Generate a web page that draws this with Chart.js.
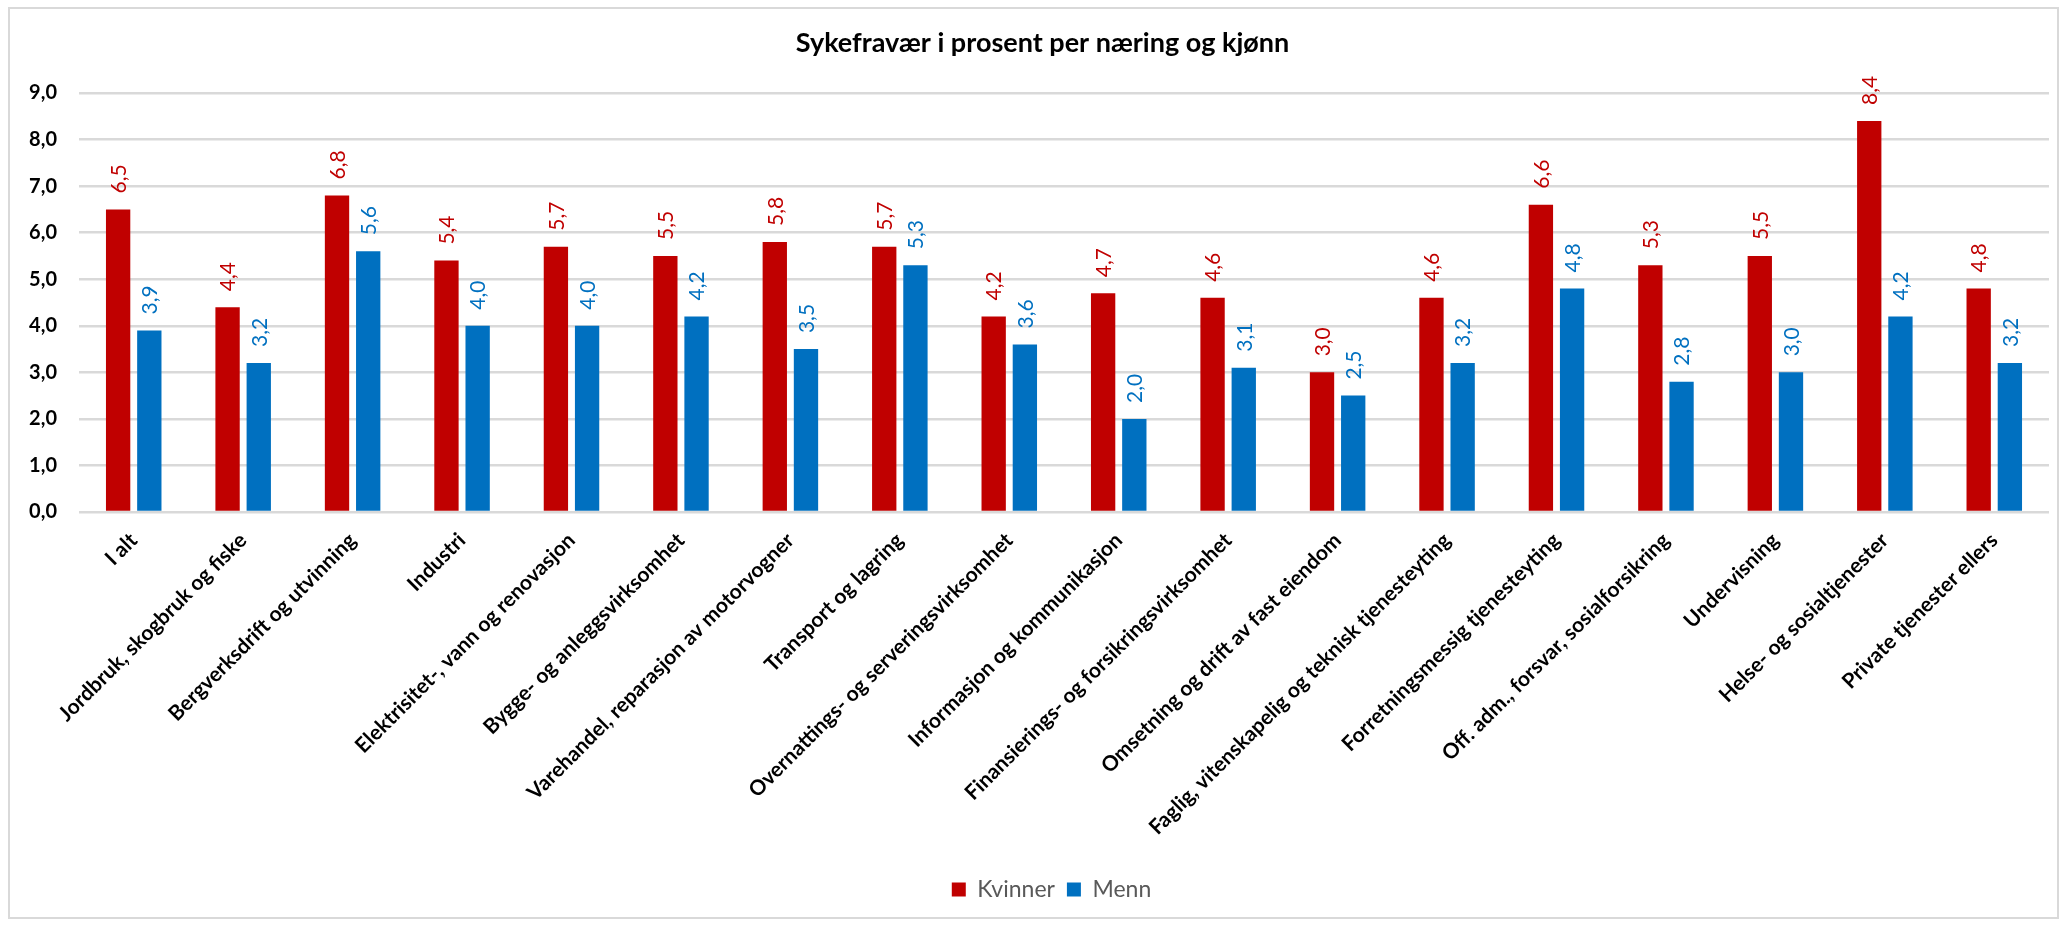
<!DOCTYPE html>
<html>
<head>
<meta charset="utf-8">
<script src="https://cdn.jsdelivr.net/npm/chart.js@4"></script>
<style>
  html, body { margin: 0; padding: 0; background: #fff; }
  #wrap { position: relative; width: 2069px; height: 925px; }
  #frame { position: absolute; left: 8px; top: 7px; width: 2051px; height: 912px; border: 2px solid #d9d9d9; box-sizing: border-box; pointer-events: none; }
  canvas { position: absolute; left: 0; top: 0; }
</style>
</head>
<body>
<div id="wrap">
  <canvas id="c" width="2069" height="925"></canvas>
  <div id="frame"></div>
</div>
<script>
const categories = [
  "I alt",
  "Jordbruk, skogbruk og fiske",
  "Bergverksdrift og utvinning",
  "Industri",
  "Elektrisitet-, vann og renovasjon",
  "Bygge- og anleggsvirksomhet",
  "Varehandel, reparasjon av motorvogner",
  "Transport og lagring",
  "Overnattings- og serveringsvirksomhet",
  "Informasjon og kommunikasjon",
  "Finansierings- og forsikringsvirksomhet",
  "Omsetning og drift av fast eiendom",
  "Faglig, vitenskapelig og teknisk tjenesteyting",
  "Forretningsmessig tjenesteyting",
  "Off. adm., forsvar, sosialforsikring",
  "Undervisning",
  "Helse- og sosialtjenester",
  "Private tjenester ellers"
];
const kvinner = [6.5, 4.4, 6.8, 5.4, 5.7, 5.5, 5.8, 5.7, 4.2, 4.7, 4.6, 3.0, 4.6, 6.6, 5.3, 5.5, 8.4, 4.8];
const menn    = [3.9, 3.2, 5.6, 4.0, 4.0, 4.2, 3.5, 5.3, 3.6, 2.0, 3.1, 2.5, 3.2, 4.8, 2.8, 3.0, 4.2, 3.2];
const seriesNames = ["Kvinner", "Menn"];
const titleText = "Sykefravær i prosent per næring og kjønn";

const RED = "#c00000";
const BLUE = "#0070c0";
const FONT = "Lato, 'Open Sans', sans-serif";

const fmt = v => v.toFixed(1).replace('.', ',');

const valueLabels = {
  id: 'valueLabels',
  afterDatasetsDraw(chart) {
    const ctx = chart.ctx;
    chart.data.datasets.forEach((ds, di) => {
      const meta = chart.getDatasetMeta(di);
      meta.data.forEach((el, i) => {
        const v = ds.data[i];
        ctx.save();
        ctx.translate(el.x, el.y - 16);
        ctx.rotate(-Math.PI / 2);
        ctx.font = "21px " + FONT;
        ctx.fillStyle = ds.backgroundColor;
        ctx.textAlign = 'left';
        ctx.textBaseline = 'middle';
        ctx.fillText(fmt(v), 0, 1);
        ctx.restore();
      });
    });
  }
};

// nudge the title and legend blocks slightly right, as in the original layout
const blockShift = {
  id: 'blockShift',
  afterLayout(chart) {
    if (chart.legend) { chart.legend.left += 27; chart.legend.right += 27; }
    if (chart.titleBlock) { chart.titleBlock.left += 18; chart.titleBlock.right += 18; }
  }
};

new Chart(document.getElementById('c'), {
  type: 'bar',
  data: {
    labels: categories,
    datasets: [
      { label: seriesNames[0], data: kvinner, backgroundColor: RED, categoryPercentage: 0.57, barPercentage: 0.78 },
      { label: seriesNames[1], data: menn, backgroundColor: BLUE, categoryPercentage: 0.57, barPercentage: 0.78 }
    ]
  },
  options: {
    responsive: false,
    animation: false,
    devicePixelRatio: 1,
    layout: { padding: { left: 0, right: 20, top: 0, bottom: 14 } },
    plugins: {
      title: {
        display: true,
        text: titleText,
        color: '#000',
        font: { family: FONT, size: 27, weight: 'bold', lineHeight: 1.2 },
        padding: { top: 27, bottom: 33.6 }
      },
      legend: {
        display: true,
        position: 'bottom',
        labels: {
          color: '#595959',
          font: { family: FONT, size: 23 },
          boxWidth: 14,
          boxHeight: 14,
          padding: 12
        }
      },
      tooltip: { enabled: false }
    },
    scales: {
      x: {
        grid: { display: false },
        border: { display: false },
        ticks: {
          color: '#000',
          font: { family: FONT, size: 21, weight: 'bold' },
          minRotation: 45,
          maxRotation: 45,
          autoSkip: false,
          padding: 8
        },
        afterFit(scale) { scale.height = 354; }
      },
      y: {
        min: 0,
        max: 9,
        grid: { color: '#d9d9d9', lineWidth: 2.5, drawTicks: false },
        border: { display: false },
        ticks: {
          stepSize: 1,
          color: '#000',
          font: { family: FONT, size: 20, weight: 'bold' },
          padding: 22,
          callback: v => fmt(v)
        },
        afterFit(scale) { scale.width = 79; }
      }
    }
  },
  plugins: [valueLabels, blockShift]
});
</script>
</body>
</html>
